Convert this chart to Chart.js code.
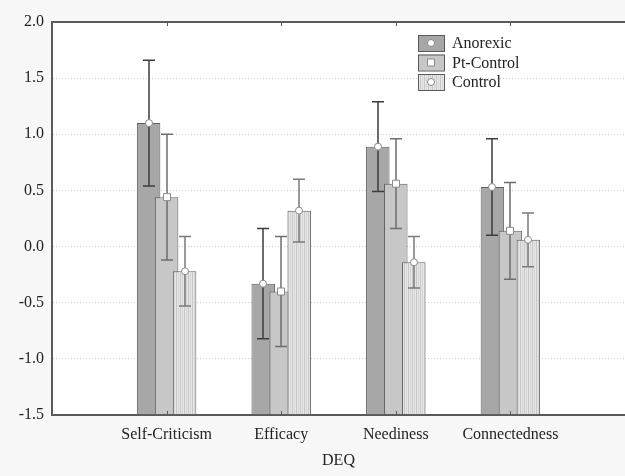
<!DOCTYPE html>
<html>
<head>
<meta charset="utf-8">
<script src="https://cdn.jsdelivr.net/npm/chart.js@4.4.1/dist/chart.umd.min.js"></script>
<style>
  html, body { margin: 0; padding: 0; background: #f7f7f7; }
  canvas { display: block; }
</style>
</head>
<body>
<canvas id="deqChart" width="625" height="476"></canvas>
<script>
// DEQ factor means with error bar half-widths
const categories = ['Self-Criticism', 'Efficacy', 'Neediness', 'Connectedness'];
const seriesNames = ['Anorexic', 'Pt-Control', 'Control'];
const anorexicMean = [1.10, -0.33, 0.89, 0.53];
const anorexicErr = [0.56, 0.49, 0.40, 0.43];
const ptControlMean = [0.44, -0.40, 0.56, 0.14];
const ptControlErr = [0.56, 0.49, 0.40, 0.43];
const controlMean = [-0.22, 0.32, -0.14, 0.06];
const controlErr = [0.31, 0.28, 0.23, 0.24];
const yTickValues = [-1.5, -1.0, -0.5, 0.0, 0.5, 1.0, 1.5, 2.0];

const yMin = yTickValues[0];
const yMax = yTickValues[yTickValues.length - 1];
const FONT = '"Liberation Serif", "DejaVu Serif", serif';

// one empty slot on each side, like the original layout
const labels = [''].concat(categories, ['']);
function pad(arr) { return [null].concat(arr, [null]); }
function floating(arr) { return pad(arr.map(v => [yMin, v])); }

function stripePattern() {
  const c = document.createElement('canvas');
  c.width = 4; c.height = 4;
  const g = c.getContext('2d');
  g.fillStyle = '#e6e6e6';
  g.fillRect(0, 0, 4, 4);
  g.fillStyle = '#c8c8c8';
  g.fillRect(0, 0, 1, 4);
  g.fillStyle = '#d6d6d6';
  g.fillRect(2, 0, 1, 4);
  return g.createPattern(c, 'repeat');
}

const fills = ['#a7a7a7', '#c7c7c7', stripePattern()];
const means = [anorexicMean, ptControlMean, controlMean];
const errs = [anorexicErr, ptControlErr, controlErr];
const errColors = ['#3c3c3c', '#6e6e6e', '#7a7a7a'];
const markers = ['circle', 'square', 'circle'];

function drawMarker(ctx, type, x, y) {
  ctx.save();
  ctx.fillStyle = '#ffffff';
  ctx.strokeStyle = '#8a8a8a';
  ctx.lineWidth = 1;
  ctx.beginPath();
  if (type === 'square') {
    ctx.rect(x - 3.5, y - 3.5, 7, 7);
  } else {
    ctx.arc(x, y, 3.5, 0, Math.PI * 2);
  }
  ctx.fill();
  ctx.stroke();
  ctx.restore();
}

const backgroundPlugin = {
  id: 'backgroundPlugin',
  beforeDraw(chart) {
    const { ctx, chartArea: a } = chart;
    ctx.save();
    ctx.fillStyle = '#f7f7f7';
    ctx.fillRect(0, 0, chart.width, chart.height);
    ctx.fillStyle = '#ffffff';
    ctx.fillRect(a.left, a.top, a.right - a.left, a.bottom - a.top);
    ctx.restore();
  },
  // draw later series over earlier ones, as in the original
  beforeDatasetsDraw(chart) {
    for (let d = 0; d < chart.data.datasets.length; d++) {
      chart.getDatasetMeta(d).controller.draw();
    }
    return false;
  }
};

const errorBarPlugin = {
  id: 'errorBarPlugin',
  afterDraw(chart) {
    const { ctx, chartArea: a } = chart;
    const y = chart.scales.y;
    const x = chart.scales.x;
    ctx.save();
    ctx.setLineDash([]);
    // frame and small category tick marks
    ctx.strokeStyle = '#5a5a5a';
    ctx.lineWidth = 2;
    ctx.beginPath();
    ctx.moveTo(a.left, a.bottom + 1);
    ctx.lineTo(a.left, a.top);
    ctx.lineTo(a.right, a.top);
    ctx.stroke();
    ctx.lineWidth = 1;
    for (let i = 1; i <= categories.length; i++) {
      const px = Math.round(x.getPixelForValue(i)) + 0.5;
      ctx.beginPath();
      ctx.moveTo(px, a.top);
      ctx.lineTo(px, a.top + 4);
      ctx.moveTo(px, a.bottom);
      ctx.lineTo(px, a.bottom - 4);
      ctx.stroke();
    }
    // error bars
    for (let d = 0; d < means.length; d++) {
      const meta = chart.getDatasetMeta(d);
      ctx.strokeStyle = errColors[d];
      ctx.lineWidth = 1.5;
      for (let i = 0; i < categories.length; i++) {
        const bar = meta.data[i + 1];
        const bx = Math.round(bar.x);
        const hi = y.getPixelForValue(means[d][i] + errs[d][i]);
        const lo = y.getPixelForValue(means[d][i] - errs[d][i]);
        ctx.beginPath();
        ctx.moveTo(bx, hi);
        ctx.lineTo(bx, lo);
        ctx.moveTo(bx - 6, hi);
        ctx.lineTo(bx + 6, hi);
        ctx.moveTo(bx - 6, lo);
        ctx.lineTo(bx + 6, lo);
        ctx.stroke();
      }
    }
    for (let d = 0; d < means.length; d++) {
      const meta = chart.getDatasetMeta(d);
      for (let i = 0; i < categories.length; i++) {
        const bar = meta.data[i + 1];
        drawMarker(ctx, markers[d], Math.round(bar.x), y.getPixelForValue(means[d][i]));
      }
    }
    // legend
    const lx = a.left + 366;
    const ly = 35;
    ctx.font = '16px ' + FONT;
    ctx.textBaseline = 'middle';
    for (let d = 0; d < seriesNames.length; d++) {
      const by = ly + d * 19.5;
      ctx.fillStyle = fills[d];
      ctx.fillRect(lx, by, 26, 16);
      ctx.strokeStyle = '#5a5a5a';
      ctx.lineWidth = 1;
      ctx.strokeRect(lx + 0.5, by + 0.5, 26, 16);
      drawMarker(ctx, markers[d], lx + 13, by + 8);
      ctx.fillStyle = '#222222';
      ctx.fillText(seriesNames[d], lx + 34, by + 9);
    }
    ctx.restore();
  }
};

const deqChart = new Chart(document.getElementById('deqChart'), {
  type: 'bar',
  data: {
    labels: labels,
    datasets: seriesNames.map((name, d) => ({
      label: name,
      data: floating(means[d]),
      backgroundColor: fills[d],
      borderColor: '#5e5e5e',
      borderWidth: 1,
      borderSkipped: false,
      categoryPercentage: 0.471,
      barPercentage: 1.305
    }))
  },
  options: {
    responsive: false,
    animation: false,
    devicePixelRatio: 1,
    layout: { padding: { top: 22, right: 0, bottom: 0, left: 0 } },
    plugins: {
      legend: { display: false },
      tooltip: { enabled: false }
    },
    scales: {
      x: {
        offset: false,
        grid: { display: true, color: 'rgba(0,0,0,0)', drawTicks: false, offset: false },
        border: { display: true, color: '#5a5a5a', width: 2 },
        ticks: {
          color: '#222222',
          font: { family: FONT, size: 16 },
          padding: 10,
          maxRotation: 0,
          autoSkip: false
        },
        title: {
          display: true,
          text: 'DEQ',
          color: '#222222',
          font: { family: FONT, size: 16 },
          padding: { top: 4, bottom: 6 }
        },
        afterFit(scale) {
          scale.height = 61;
          scale.paddingLeft = 0;
          scale.paddingRight = 0;
        }
      },
      y: {
        min: yMin,
        max: yMax,
        afterBuildTicks(scale) {
          scale.ticks = yTickValues.map(v => ({ value: v }));
        },
        grid: {
          color: ctx => (ctx.tick && (ctx.tick.value === yMin || ctx.tick.value === yMax)) ? 'rgba(0,0,0,0)' : '#cfcfcf',
          drawTicks: false
        },
        border: { display: true, color: '#5a5a5a', width: 2, dash: [1, 2] },
        ticks: {
          color: '#222222',
          font: { family: FONT, size: 16 },
          padding: 8,
          callback: v => Number(v).toFixed(1)
        },
        afterFit(scale) { scale.width = 52; }
      }
    }
  },
  plugins: [backgroundPlugin, errorBarPlugin]
});
</script>
</body>
</html>
